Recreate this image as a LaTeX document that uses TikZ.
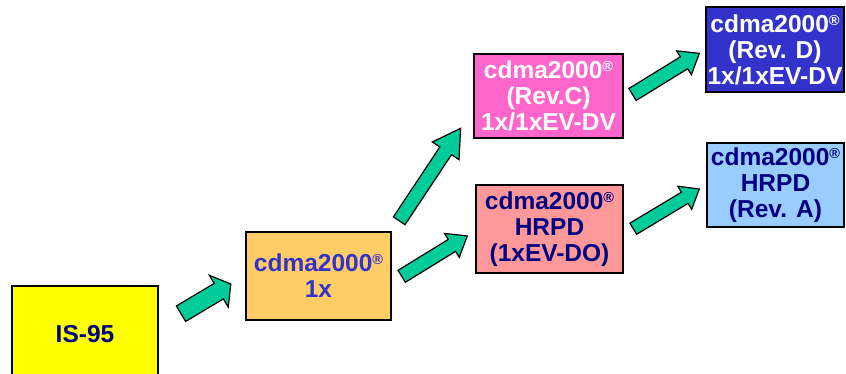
\documentclass[tikz,border=0pt]{standalone}
\usepackage{fontspec}
\setmainfont{Liberation Sans}
\usepackage{tikz}
\usetikzlibrary{calc}

\definecolor{isyellow}{HTML}{FFFF00}
\definecolor{onexorange}{HTML}{FFCC66}
\definecolor{revcpink}{HTML}{FF66CC}
\definecolor{hrpdsalmon}{HTML}{FF9999}
\definecolor{revdblue}{HTML}{3333CC}
\definecolor{revalight}{HTML}{99CCFF}
\definecolor{textblue}{HTML}{3333CC}
\definecolor{textnavy}{HTML}{000080}
\definecolor{arrowgreen}{HTML}{00CC99}

\def\blockarrow[#1](#2)(#3:#4:#5:#6:#7){\draw[#1,shift={(#2)},rotate=#3] (0,{-#5/2}) -- ({#4-#7},{-#5/2}) -- ({#4-#7},{-#6/2}) -- (#4,0) -- ({#4-#7},{#6/2}) -- ({#4-#7},{#5/2}) -- (0,{#5/2}) -- cycle;}
\newcommand\regmark{\raisebox{7pt}{\fontsize{14.5}{14.5}\selectfont ®}}

\tikzset{
	genbox/.style={draw=black, line width=1.2pt, inner sep=0pt, align=center,
		font=\fontsize{24.5}{26}\selectfont\bfseries},
	greenarrow/.style={fill=arrowgreen, draw=black, line width=1.2pt, line join=miter}
}

\begin{document}
\begin{tikzpicture}[x=1pt,y=-1pt]
			%%%%% START %%%%%
			\useasboundingbox (0,0) rectangle (846,374);
			\clip (0,0) rectangle (846,374);
			
			\node[genbox, fill=isyellow, text=textnavy, minimum width=146pt, minimum height=96pt] (is95) at (85,334) {IS-95};
			\node[genbox, fill=onexorange, text=textblue, minimum width=145pt, minimum height=88pt] (onex) at (318.5,276) {cdma2000\regmark\\1x};
			
			\node[genbox, fill=revcpink, text=white, minimum width=149pt, minimum height=84pt] (revc) at (548.5,96) {cdma2000\regmark\\(Rev.C)\\1x/1xEV-DV};
			\node[genbox, fill=hrpdsalmon, text=textnavy, minimum width=147pt, minimum height=88pt] (hrpd) at (549.5,229) {cdma2000\regmark\\HRPD\\(1xEV-DO)};
			
			\node[genbox, fill=revdblue, text=white, minimum width=138pt, minimum height=85pt] (revd) at (775,49.5) {cdma2000\regmark\\(Rev. D)\\1x/1xEV-DV};
			\node[genbox, fill=revalight, text=textnavy, minimum width=137pt, minimum height=84pt] (reva) at (775.5,185) {cdma2000\regmark\\HRPD\\(Rev. A)};
			
			% block arrows: (tail)(angle:length:shaft:head:headlength)
			\blockarrow[greenarrow](181,313.7)(30.8:58:18:37:14)
			\blockarrow[greenarrow](401.7,276.3)(31.6:77:14:28:18)
			\blockarrow[greenarrow](399.2,220.8)(56.4:111:14:32:27)
			\blockarrow[greenarrow](633.3,228.7)(31:77:13:27:17)
			\blockarrow[greenarrow](632.5,94.5)(31.6:78.5:14:28:18)
			
			%%%%% END %%%%%
\end{tikzpicture}
\end{document}
